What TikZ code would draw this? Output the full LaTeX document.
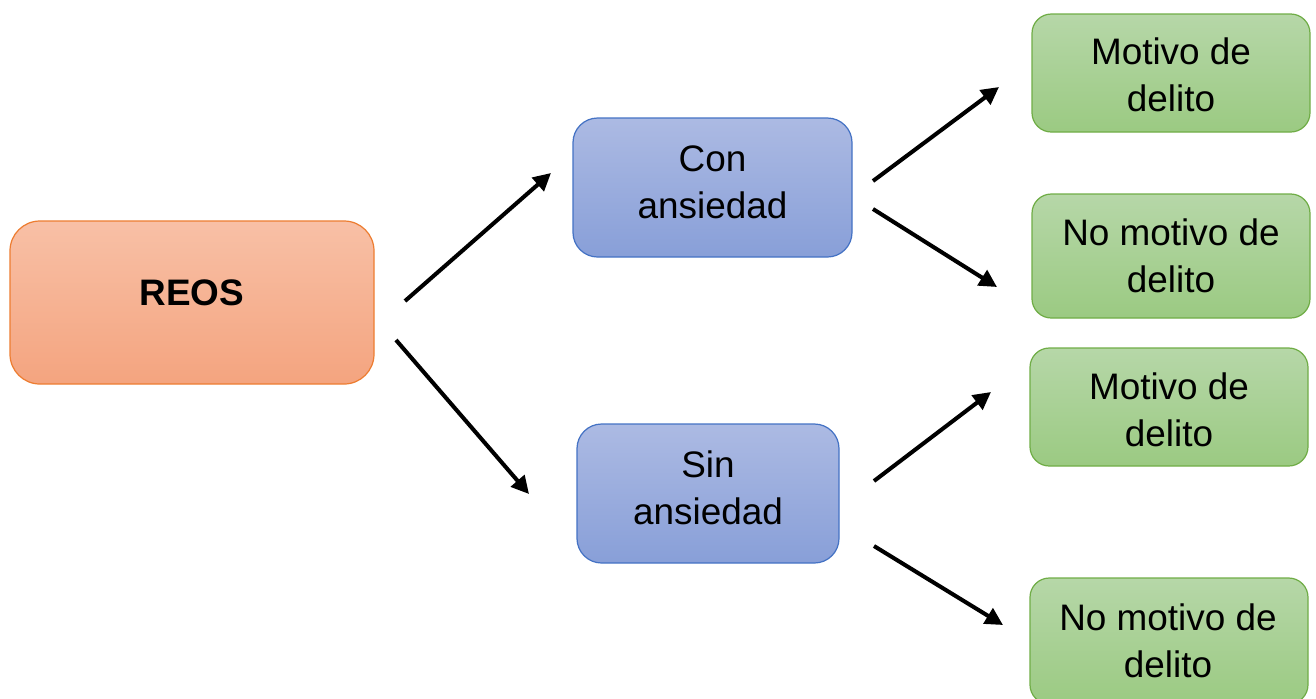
\documentclass[tikz,border=0pt]{standalone}
\usepackage{fontspec}
\setmainfont{Liberation Sans}
\usetikzlibrary{arrows.meta}
\definecolor{orT}{HTML}{F8C0A6}
\definecolor{orB}{HTML}{F4A47F}
\definecolor{orD}{HTML}{ED7D31}
\definecolor{blT}{HTML}{ACBAE3}
\definecolor{blB}{HTML}{889FD8}
\definecolor{blD}{HTML}{4472C4}
\definecolor{grT}{HTML}{B6D7A8}
\definecolor{grB}{HTML}{9BCA82}
\definecolor{grD}{HTML}{70AD47}
\tikzset{
  box/.style={draw, line width=0.7pt, rectangle, inner sep=0pt},
  orangebox/.style={box, draw=orD, top color=orT, bottom color=orB, rounded corners=17pt},
  bluebox/.style={box, draw=blD, top color=blT, bottom color=blB, rounded corners=14pt},
  greenbox/.style={box, draw=grD, top color=grT, bottom color=grB, rounded corners=11pt},
  txt/.style={align=center, font=\fontsize{21}{26.6}\selectfont, inner sep=0pt},
  conn/.style={line width=2.3pt, -{Triangle[length=10pt,width=10pt]}}
}
\begin{document}
\begin{tikzpicture}[x=0.02cm,y=-0.02cm]
\useasboundingbox (0,0) rectangle (1316,698);
\begin{scope}
\clip (0,0) rectangle (1316,698);
% boxes
\node[orangebox, minimum width=364*0.02cm, minimum height=163*0.02cm] (reos) at (192,302.5) {};
\node[bluebox, minimum width=279*0.02cm, minimum height=139*0.02cm] (con) at (712.5,187.5) {};
\node[bluebox, minimum width=262*0.02cm, minimum height=139*0.02cm] (sin) at (708,493.5) {};
\node[greenbox, minimum width=278*0.02cm, minimum height=118*0.02cm] (g1) at (1171,73) {};
\node[greenbox, minimum width=278*0.02cm, minimum height=124*0.02cm] (g2) at (1171,256) {};
\node[greenbox, minimum width=278*0.02cm, minimum height=118*0.02cm] (g3) at (1169,407) {};
\node[greenbox, minimum width=278*0.02cm, minimum height=126*0.02cm] (g4) at (1169,641) {};
\end{scope}
% texts
\node[txt, font=\fontsize{21}{26.6}\selectfont\bfseries] (treos) at (192,293) {REOS};
\node[txt] (tcon) at (712.5,182) {Con\\ansiedad};
\node[txt] (tsin) at (708,488) {Sin\\ansiedad};
\node[txt] (tg1) at (1171,75) {Motivo de\\delito};
\node[txt] (tg2) at (1171,256) {No motivo de\\delito};
\node[txt] (tg3) at (1169,410) {Motivo de\\delito};
\node[txt] (tg4) at (1168,641) {No motivo de\\delito};
% connector ends
\coordinate (a1s) at (405,301); \coordinate (a1e) at (551,173);
\coordinate (a2s) at (396,340); \coordinate (a2e) at (529,494);
\coordinate (a3s) at (873,181); \coordinate (a3e) at (999,87);
\coordinate (a4s) at (873,209); \coordinate (a4e) at (997,287);
\coordinate (a5s) at (874,481); \coordinate (a5e) at (991,392);
\coordinate (a6s) at (874,546); \coordinate (a6e) at (1003,625);
\draw[conn] (a1s) -- (a1e);
\draw[conn] (a2s) -- (a2e);
\draw[conn] (a3s) -- (a3e);
\draw[conn] (a4s) -- (a4e);
\draw[conn] (a5s) -- (a5e);
\draw[conn] (a6s) -- (a6e);
\end{tikzpicture}
\end{document}
